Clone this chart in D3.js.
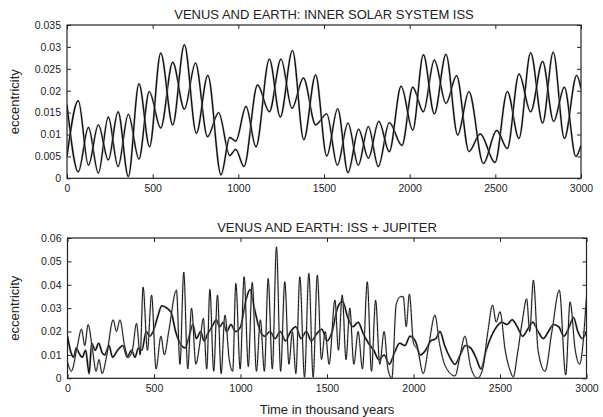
<!DOCTYPE html>
<html><head><meta charset="utf-8">
<script src="https://cdn.jsdelivr.net/npm/d3@7"></script>
<style>body{margin:0;background:#fff}svg{display:block}text{font-family:"Liberation Sans",Arial,sans-serif}</style>
</head><body>
<script>
// ---- data (time in thousand years, eccentricity) ----
const xTicks = [0,500,1000,1500,2000,2500,3000];
const topYTicks = [0,0.005,0.01,0.015,0.02,0.025,0.03,0.035];
const botYTicks = [0,0.01,0.02,0.03,0.04,0.05,0.06];
const topTitle = "VENUS AND EARTH: INNER SOLAR SYSTEM ISS";
const botTitle = "VENUS AND EARTH: ISS + JUPITER";

const topA = [[0,0.0168],[66,0.0015],[125,0.0116],[183,0.0012],[241,0.014],[298,0.0027],[358,0.0146],[420,0.0044],[480,0.0198],[547,0.0115],[617,0.0265],[685,0.0158],[750,0.0263],[820,0.0095],[885,0.015],[950,0.0052],[985,0.0066],[1033,0.0027],[1112,0.0213],[1181,0.0152],[1249,0.0272],[1313,0.016],[1380,0.0229],[1451,0.0122],[1516,0.0147],[1578,0.003],[1640,0.0126],[1700,0.003],[1759,0.0118],[1817,0.0027],[1881,0.0127],[1955,0.0075],[2018,0.0208],[2080,0.0152],[2144,0.027],[2212,0.0171],[2274,0.0234],[2346,0.0061],[2412,0.0101],[2498,0.0036],[2570,0.0198],[2638,0.0091],[2706,0.0287],[2776,0.0126],[2838,0.0288],[2903,0.0091],[2975,0.0235],[3000,0.0205]];
const topB = [[0,0.005],[66,0.0177],[125,0.003],[183,0.0122],[241,0.0042],[298,0.0152],[358,0.0004],[420,0.0216],[482,0.0072],[547,0.0286],[617,0.0122],[685,0.0305],[755,0.0103],[822,0.0235],[899,0.0008],[950,0.0093],[985,0.0085],[1045,0.0164],[1103,0.0072],[1181,0.0272],[1245,0.014],[1316,0.0292],[1382,0.0088],[1451,0.0236],[1516,0.0051],[1580,0.0159],[1640,0.0013],[1702,0.0112],[1759,0.0046],[1820,0.013],[1881,0.0061],[1950,0.021],[2018,0.011],[2080,0.0282],[2144,0.0147],[2212,0.0283],[2280,0.0099],[2346,0.0198],[2430,0.0034],[2508,0.0109],[2570,0.0068],[2638,0.0238],[2706,0.0152],[2776,0.0267],[2840,0.013],[2903,0.0208],[2970,0.005],[3000,0.0075]];

const botC = [[0,0.007],[22,0.003],[55,0.013],[81,0.021],[100,0.014],[119,0.023],[145,0.012],[165,0.003],[182,0.008],[200,0.002],[225,0.009],[264,0.025],[283,0.02],[303,0.025],[330,0.014],[352,0.009],[375,0.012],[399,0.0235],[420,0.01],[437,0.039],[462,0.012],[486,0.0356],[512,0.004],[540,0.018],[560,0.01],[585,0.02],[630,0.0377],[650,0.006],[672,0.0454],[695,0.004],[717,0.03],[742,0.006],[765,0.015],[785,0.0256],[805,0.004],[823,0.038],[845,0.003],[867,0.0356],[888,0.002],[910,0.027],[935,0.008],[955,0.003],[973,0.0406],[998,0.004],[1021,0.0434],[1045,0.005],[1068,0.041],[1092,0.003],[1115,0.025],[1138,0.003],[1160,0.0427],[1184,0.004],[1208,0.0562],[1232,0.003],[1256,0.0413],[1280,0.006],[1300,0.02],[1320,0.002],[1343,0.0434],[1370,0.0005],[1395,0.0449],[1420,0.0005],[1444,0.0441],[1468,0.008],[1490,0.02],[1512,0.006],[1546,0.0334],[1566,0.012],[1588,0.0356],[1610,0.008],[1632,0.03],[1655,0.006],[1680,0.02],[1705,0.004],[1733,0.0413],[1757,0.003],[1781,0.0334],[1805,0.006],[1830,0.02],[1852,0.004],[1875,0.0],[1900,0.0316],[1925,0.0349],[1941,0.0349],[1958,0.022],[1976,0.036],[2000,0.015],[2025,0.012],[2056,0.002],[2090,0.015],[2124,0.027],[2150,0.015],[2185,0.005],[2240,0.001],[2270,0.01],[2297,0.018],[2330,0.005],[2370,0.0],[2400,0.004],[2430,0.02],[2457,0.0313],[2478,0.024],[2500,0.0285],[2530,0.012],[2560,0.003],[2577,0.0005],[2600,0.01],[2630,0.025],[2654,0.034],[2672,0.02],[2693,0.042],[2720,0.012],[2760,0.003],[2800,0.02],[2843,0.0377],[2880,0.0014],[2905,0.0327],[2935,0.012],[2960,0.006],[3000,0.0349]];
const botD = [[0,0.018],[20,0.011],[35,0.009],[50,0.013],[65,0.011],[85,0.009],[105,0.012],[125,0.002],[140,0.015],[160,0.012],[180,0.015],[200,0.011],[215,0.01],[240,0.014],[260,0.009],[290,0.012],[320,0.014],[345,0.009],[370,0.012],[390,0.009],[410,0.013],[430,0.012],[455,0.02],[475,0.018],[495,0.02],[520,0.026],[545,0.031],[575,0.03],[600,0.028],[625,0.02],[650,0.015],[680,0.013],[700,0.017],[725,0.023],[745,0.017],[770,0.02],[790,0.016],[810,0.019],[835,0.022],[860,0.025],[880,0.022],[900,0.024],[920,0.02],[945,0.023],[970,0.02],[1000,0.022],[1030,0.033],[1055,0.038],[1080,0.03],[1110,0.021],[1140,0.018],[1170,0.02],[1200,0.017],[1230,0.02],[1260,0.016],[1290,0.02],[1320,0.022],[1350,0.017],[1380,0.02],[1410,0.016],[1440,0.019],[1470,0.021],[1500,0.016],[1530,0.02],[1560,0.03],[1590,0.033],[1620,0.026],[1650,0.022],[1680,0.024],[1710,0.019],[1740,0.015],[1770,0.012],[1800,0.008],[1830,0.01],[1860,0.006],[1890,0.011],[1920,0.015],[1950,0.014],[1980,0.018],[2010,0.016],[2040,0.01],[2070,0.012],[2100,0.016],[2130,0.017],[2153,0.02],[2180,0.014],[2210,0.009],[2240,0.006],[2270,0.01],[2300,0.014],[2330,0.013],[2360,0.009],[2390,0.004],[2420,0.012],[2450,0.018],[2480,0.022],[2510,0.024],[2540,0.023],[2570,0.025],[2600,0.022],[2630,0.018],[2660,0.021],[2690,0.024],[2720,0.02],[2750,0.017],[2780,0.02],[2810,0.023],[2840,0.022],[2870,0.018],[2900,0.022],[2925,0.026],[2950,0.02],[2975,0.017],[3000,0.02]];

// ---- drawing ----
const svg = d3.select("body").append("svg").attr("width",603).attr("height",417);
const fmt = d => d===0 ? "0" : String(+d.toFixed(4));

function panel(cfg){
  const x = d3.scaleLinear().domain([0,3000]).range([cfg.x0,cfg.x1]);
  const y = d3.scaleLinear().domain([0,cfg.ymax]).range([cfg.y0,cfg.y1]);
  const g = svg.append("g");
  const ax = (gen, tr) => g.append("g").attr("transform",tr).call(gen)
     .call(s=>s.select(".domain").remove())
     .call(s=>s.selectAll("line").attr("stroke","#222"))
     .call(s=>s.selectAll("text").attr("fill","#222").style("font-size","10.5px").style("font-family",'"Liberation Sans",Arial,sans-serif'));
  ax(d3.axisBottom(x).tickValues(xTicks).tickSize(-4).tickPadding(6).tickFormat(d3.format("d")), `translate(0,${cfg.y0})`);
  ax(d3.axisTop(x).tickValues(xTicks).tickSize(-4).tickFormat(""), `translate(0,${cfg.y1})`);
  ax(d3.axisLeft(y).tickValues(cfg.yTicks).tickSize(-4).tickPadding(6).tickFormat(fmt), `translate(${cfg.x0},0)`);
  ax(d3.axisRight(y).tickValues(cfg.yTicks).tickSize(-4).tickFormat(""), `translate(${cfg.x1},0)`);
  const line = d3.line().x(d=>x(d[0])).y(d=>y(d[1])).curve(d3.curveMonotoneX);
  const clipId = "clip"+cfg.id;
  svg.append("clipPath").attr("id",clipId).append("rect")
    .attr("x",cfg.x0).attr("y",cfg.y1).attr("width",cfg.x1-cfg.x0).attr("height",cfg.y0-cfg.y1);
  cfg.series.forEach(s=>{
    g.append("path").datum(s.data).attr("clip-path",`url(#${clipId})`)
      .attr("d",line).attr("fill","none").attr("stroke","#bbb").attr("stroke-width",s.w+1.2).attr("stroke-opacity",0.5);
    g.append("path").datum(s.data).attr("clip-path",`url(#${clipId})`)
      .attr("d",line).attr("fill","none").attr("stroke","#111").attr("stroke-width",s.w).attr("stroke-linejoin","round");
  });
  g.append("rect").attr("x",cfg.x0).attr("y",cfg.y1).attr("width",cfg.x1-cfg.x0).attr("height",cfg.y0-cfg.y1)
    .attr("fill","none").attr("stroke","#222").attr("stroke-width",1.2);
  g.append("text").attr("x",(cfg.x0+cfg.x1)/2).attr("y",cfg.y1-6).attr("text-anchor","middle")
    .style("font-size","13px").attr("fill","#222").text(cfg.title);
  g.append("text").attr("transform",`translate(19,${(cfg.y0+cfg.y1)/2}) rotate(-90)`).attr("text-anchor","middle")
    .style("font-size","13px").attr("fill","#222").text("eccentricity");
}

panel({id:1,x0:67,x1:581,y0:178.3,y1:25,ymax:0.035,yTicks:topYTicks,title:topTitle,
  series:[{data:topA,w:1.4},{data:topB,w:1.4}]});
panel({id:2,x0:67.5,x1:586.5,y0:378.3,y1:238,ymax:0.06,yTicks:botYTicks,title:botTitle,
  series:[{data:botD,w:1.5},{data:botC,w:1.0}]});

svg.append("text").attr("x",327).attr("y",414).attr("text-anchor","middle")
  .style("font-size","13px").attr("fill","#222").text("Time in thousand years");
</script>
</body></html>
